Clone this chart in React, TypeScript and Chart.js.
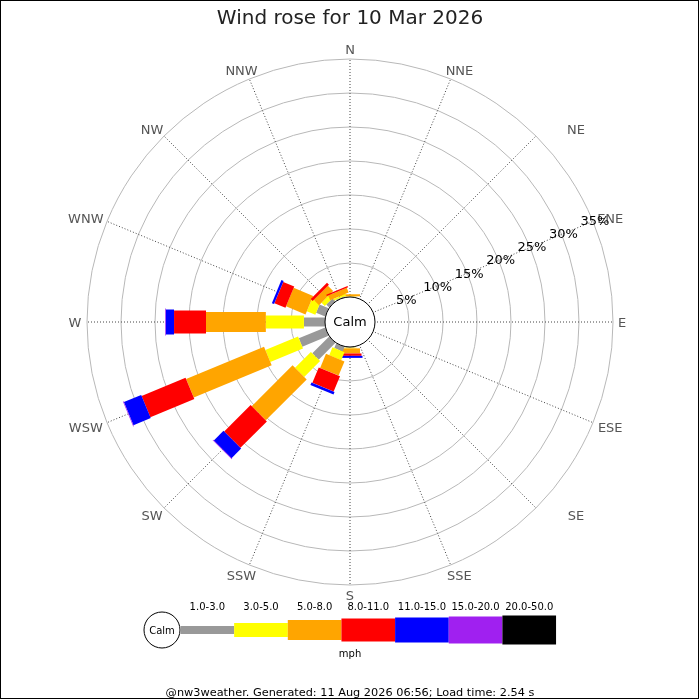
import { useEffect, useRef } from "react";
import { Chart, registerables } from "chart.js";

Chart.register(...registerables);

const DIRECTIONS = ["N", "NNE", "NE", "ENE", "E", "ESE", "SE", "SSE", "S", "SSW", "SW", "WSW", "W", "WNW", "NW", "NNW"];
const SPEED_BINS = ["1.0-3.0", "3.0-5.0", "5.0-8.0", "8.0-11.0", "11.0-15.0", "15.0-20.0", "20.0-50.0"];
const SPEED_UNIT = "mph";

// percent of the day per direction (same order as DIRECTIONS)
const BIN_1_3 = [0.05, 0, 0, 0, 0, 0, 0, 0, 0.1, 0.75, 3.5, 4.2, 3.1, 1.45, 0.6, 0.15];
const BIN_3_5 = [0.05, 0, 0, 0, 0, 0, 0, 0, 0.1, 1.25, 3.3, 5.2, 5.6, 1.35, 0.7, 0.25];
const BIN_5_8 = [0.3, 0, 0, 0, 0, 0, 0, 0, 0.75, 2.25, 8.5, 12.4, 8.8, 3.1, 1.1, 0.75];
const BIN_8_11 = [0, 0, 0, 0, 0, 0, 0, 0, 0.35, 2.45, 5.5, 7.0, 4.7, 1.75, 0.4, 0.2];
const BIN_11_15 = [0, 0, 0, 0, 0, 0, 0, 0, 0.3, 0.4, 2.0, 2.75, 1.2, 0.35, 0, 0];
const BIN_15_20 = [0, 0, 0, 0, 0, 0, 0, 0, 0, 0, 0.1, 0.1, 0.1, 0, 0, 0];
const BIN_20_50 = [0, 0, 0, 0, 0, 0, 0, 0, 0, 0, 0, 0, 0, 0, 0, 0];
const BIN_SERIES = [BIN_1_3, BIN_3_5, BIN_5_8, BIN_8_11, BIN_11_15, BIN_15_20, BIN_20_50];

const RING_TICKS = [5, 10, 15, 20, 25, 30, 35];

const TITLE = "Wind rose for 10 Mar 2026";
const FOOTER = "@nw3weather. Generated: 11 Aug 2026 06:56; Load time: 2.54 s";

// styling
const FONT = "'DejaVu Sans', sans-serif";
const BIN_COLORS = ["#999999", "#ffff00", "#ffa500", "#ff0000", "#0000ff", "#a020f0", "#000000"];
const BIN_WIDTHS = [9, 13, 20, 23, 25, 27, 29];
const CX = 350;
const CY = 322;
const OUTER_R = 263;
const CALM_R = 25;
const R_MAX = 35;
const R_MIN = (-CALM_R / (OUTER_R - CALM_R)) * R_MAX;
const LABEL_NUDGE_X = [0, 5, 33, 8, -1, 8, 33, 5, 0, -4, -5, -12, -2, -12, -5, -4];
const TEXT_DY = 2; // canvas "middle" sits a little high for caps/digits

const roseDecor = {
  id: "roseDecor",
  afterDatasetsDraw(chart: any) {
    const scale = chart.scales.r;
    const ctx: CanvasRenderingContext2D = chart.ctx;
    ctx.save();

    // stacked bars, one thick segment per speed bin
    ctx.lineCap = "butt";
    DIRECTIONS.forEach((_, i) => {
      let cum = 0;
      chart.data.datasets.forEach((ds: any, j: number) => {
        const v = ds.data[i] as number;
        if (!v) return;
        const a = scale.getPointPositionForValue(i, cum);
        const b = scale.getPointPositionForValue(i, cum + v);
        ctx.beginPath();
        ctx.strokeStyle = BIN_COLORS[j];
        ctx.lineWidth = BIN_WIDTHS[j];
        ctx.moveTo(a.x, a.y);
        ctx.lineTo(b.x, b.y);
        ctx.stroke();
        cum += v;
      });
    });

    // calm circle
    const calmR = scale.getDistanceFromCenterForValue(0);
    ctx.beginPath();
    ctx.arc(scale.xCenter, scale.yCenter, calmR, 0, Math.PI * 2);
    ctx.fillStyle = "#fff";
    ctx.fill();
    ctx.lineWidth = 1;
    ctx.strokeStyle = "#000";
    ctx.stroke();
    ctx.textAlign = "center";
    ctx.textBaseline = "middle";
    ctx.fillStyle = "#000";
    ctx.font = `13px ${FONT}`;
    ctx.fillText("Calm", scale.xCenter, scale.yCenter + 1);

    // direction labels
    ctx.fillStyle = "#555";
    DIRECTIONS.forEach((d, i) => {
      const p = scale.getPointPosition(i, scale.drawingArea + 10);
      ctx.fillText(d, p.x + LABEL_NUDGE_X[i], p.y + TEXT_DY);
    });

    // ring labels along the ENE spoke
    ctx.fillStyle = "#000";
    RING_TICKS.forEach((t) => {
      const p = scale.getPointPosition(3, scale.getDistanceFromCenterForValue(t) + 2);
      ctx.fillText(`${t}%`, p.x, p.y + 1.5);
    });

    // speed legend
    const lx = 180.5;
    const lw = 53.65;
    const ly = 630;
    ctx.beginPath();
    ctx.arc(lx - 18.5, ly, 18, 0, Math.PI * 2);
    ctx.strokeStyle = "#000";
    ctx.lineWidth = 1;
    ctx.stroke();
    ctx.font = `10px ${FONT}`;
    ctx.fillText("Calm", lx - 18.5, ly + 1);
    SPEED_BINS.forEach((label, j) => {
      const h = BIN_WIDTHS[j] - (j === 0 ? 1 : 0) + (j === 1 ? 1 : 0);
      ctx.fillStyle = BIN_COLORS[j];
      ctx.fillRect(lx + j * lw, ly - h / 2, lw, h);
      ctx.fillStyle = "#000";
      ctx.fillText(label, lx + j * lw + lw / 2, 607.5);
    });
    ctx.fillText(SPEED_UNIT, 350, 654);

    // frame
    ctx.strokeStyle = "#000";
    ctx.lineWidth = 1;
    ctx.strokeRect(0.5, 0.5, 698, 698);
    ctx.restore();
  },
};

export default function App() {
  const chartRef = useRef<HTMLCanvasElement>(null);
  const chartInstanceRef = useRef<Chart | null>(null);

  useEffect(() => {
    if (!chartRef.current) return;
    if (chartInstanceRef.current) chartInstanceRef.current.destroy();
    const ctx = chartRef.current.getContext("2d");
    if (!ctx) return;

    chartInstanceRef.current = new Chart(ctx, {
      type: "radar",
      data: {
        labels: DIRECTIONS,
        datasets: SPEED_BINS.map((label, j) => ({
          label,
          data: BIN_SERIES[j],
          showLine: false,
          fill: false,
          pointRadius: 0,
          pointHoverRadius: 0,
          borderWidth: 0,
          borderColor: "rgba(0,0,0,0)",
          backgroundColor: "rgba(0,0,0,0)",
        })),
      },
      options: {
        animation: false,
        responsive: true,
        maintainAspectRatio: false,
        events: [],
        scales: {
          r: {
            min: R_MIN,
            max: R_MAX,
            beginAtZero: false,
            startAngle: 0,
            grid: { circular: true, color: "#b8b8b8", lineWidth: 1 },
            angleLines: { display: true, color: "#444", lineWidth: 1, borderDash: [1, 2] },
            pointLabels: { display: false },
            ticks: { display: false },
            afterBuildTicks: (s: any) => {
              s.ticks = [R_MIN, ...RING_TICKS].map((value) => ({ value }));
            },
            afterFit: (s: any) => {
              s.xCenter = CX;
              s.yCenter = CY;
              s.drawingArea = OUTER_R;
            },
          },
        },
        plugins: {
          legend: { display: false },
          tooltip: { enabled: false },
          title: {
            display: true,
            text: TITLE,
            color: "#222",
            font: { family: FONT, size: 20, weight: "normal" },
            padding: { top: 7, bottom: 0 },
          },
          subtitle: {
            display: true,
            position: "bottom",
            text: FOOTER,
            color: "#000",
            font: { family: FONT, size: 11.3, weight: "normal", lineHeight: 1.3 },
            padding: { top: 0, bottom: 0 },
          },
        },
      },
      plugins: [roseDecor],
    } as any);

    return () => {
      if (chartInstanceRef.current) {
        chartInstanceRef.current.destroy();
        chartInstanceRef.current = null;
      }
    };
  }, []);

  return (
    <div style={{ position: "absolute", left: 0, top: 0, width: 700, height: 700, background: "#fff" }}>
      <canvas ref={chartRef}></canvas>
    </div>
  );
}
